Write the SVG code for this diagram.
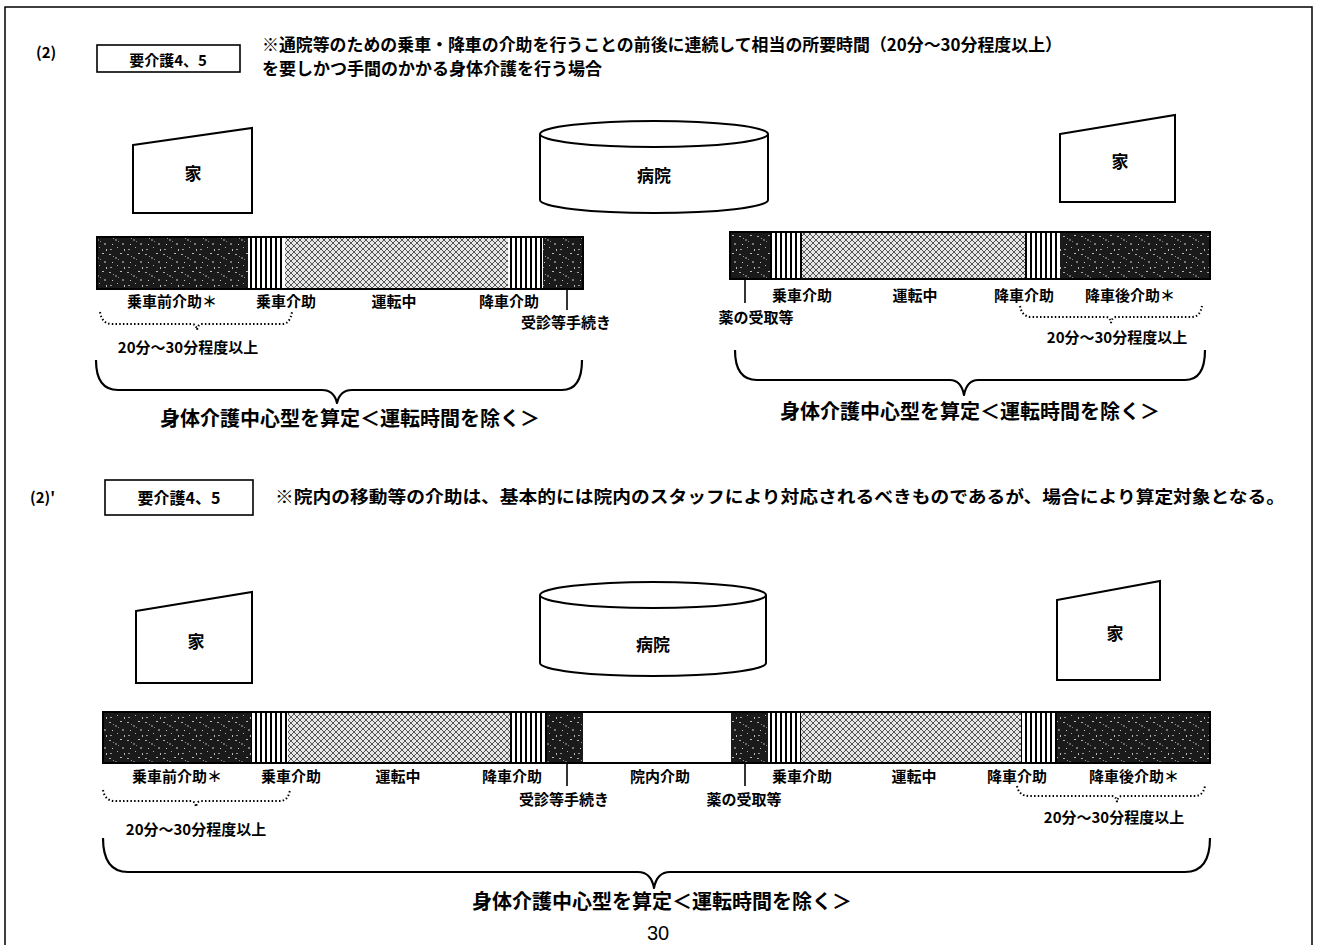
<svg xmlns="http://www.w3.org/2000/svg" width="1317" height="945" viewBox="0 0 1317 945">
<style>
.t{font-family:"Noto Sans CJK JP","Liberation Sans",sans-serif;font-weight:700;fill:#000}
.lb{font-size:15px;text-anchor:middle;dominant-baseline:central}
.hd{font-size:17px}
.big{font-size:20px;text-anchor:middle;dominant-baseline:central}
.shape{fill:#fff;stroke:#000;stroke-width:2}
.brace{fill:none;stroke:#000;stroke-width:2.2;stroke-linejoin:round}
.dbrace{fill:none;stroke:#000;stroke-width:2;stroke-dasharray:1.5 2.2}
.tick{stroke:#000;stroke-width:1.6}
.seg{stroke:none}
.bar{fill:none;stroke:#000;stroke-width:2}
</style>
<defs>
<pattern id="dark" width="18" height="18" patternUnits="userSpaceOnUse">
<rect width="18" height="18" fill="#1a1a1a"/>
<rect x="1" y="2" width="2" height="1" fill="#aaa"/>
<rect x="7" y="5" width="2" height="2" fill="#666"/>
<rect x="12" y="1" width="2" height="1" fill="#bbb"/>
<rect x="4" y="10" width="1" height="1" fill="#ccc"/>
<rect x="14" y="9" width="2" height="2" fill="#777"/>
<rect x="9" y="13" width="1" height="1" fill="#aaa"/>
<rect x="2" y="15" width="2" height="1" fill="#999"/>
<rect x="16" y="15" width="1" height="2" fill="#bbb"/>
<rect x="10" y="7" width="1" height="1" fill="#888"/>
<rect x="5" y="4" width="1" height="1" fill="#999"/>
</pattern>
<pattern id="stripe" width="5" height="10" patternUnits="userSpaceOnUse">
<rect width="5" height="10" fill="#fff"/>
<rect width="2" height="10" fill="#000"/>
</pattern>
<pattern id="hatch" width="6" height="6" patternUnits="userSpaceOnUse">
<rect width="6" height="6" fill="#e6e6e6"/>
<path d="M0 0L6 6M6 0L0 6" stroke="#555" stroke-width="1"/>
</pattern>
</defs>

<g id="frame">
<path d="M5 945V7H1312V945" fill="none" stroke="#000" stroke-width="1.5"/>
</g>

<g id="sec1-header">
<text class="t" x="36" y="58" font-size="15">(2)</text>
<rect x="97" y="45" width="143" height="27" fill="#fff" stroke="#000" stroke-width="1.6"/>
<text class="t" x="168" y="59" font-size="15" text-anchor="middle" dominant-baseline="central">要介護4、5</text>
<text class="t hd" x="262" y="51" textLength="800" lengthAdjust="spacingAndGlyphs">※通院等のための乗車・降車の介助を行うことの前後に連続して相当の所要時間（20分～30分程度以上）</text>
<text class="t hd" x="262" y="75">を要しかつ手間のかかる身体介護を行う場合</text>
</g>

<g id="sec1-home-left">
<polygon class="shape" points="133,145 252,128 252,213 133,213"/>
<text class="t" x="193" y="172" font-size="17" text-anchor="middle" dominant-baseline="central">家</text>
</g>
<g id="sec1-hospital">
<path class="shape" d="M540 134V200A114 13 0 0 0 768 200V134"/>
<ellipse class="shape" cx="654" cy="134" rx="114" ry="13"/>
<text class="t" x="654" y="174" font-size="17" text-anchor="middle" dominant-baseline="central">病院</text>
</g>
<g id="sec1-home-right">
<polygon class="shape" points="1060,134 1175,115 1175,202 1060,202"/>
<text class="t" x="1120" y="160" font-size="17" text-anchor="middle" dominant-baseline="central">家</text>
</g>

<g id="sec1-bar-left">
<rect class="seg" x="97" y="237" width="151" height="52" fill="url(#dark)"/>
<rect class="seg" x="248" y="237" width="37" height="52" fill="url(#stripe)"/>
<rect class="seg" x="285" y="237" width="223" height="52" fill="url(#hatch)"/>
<rect class="seg" x="508" y="237" width="35" height="52" fill="url(#stripe)"/>
<rect class="seg" x="543" y="237" width="40" height="52" fill="url(#dark)"/>
<rect class="bar" x="97" y="237" width="486" height="52"/>
<text class="t lb" x="172" y="300">乗車前介助＊</text>
<text class="t lb" x="286" y="300">乗車介助</text>
<text class="t lb" x="394" y="300">運転中</text>
<text class="t lb" x="509" y="300">降車介助</text>
<text class="t lb" x="566" y="321">受診等手続き</text>
<text class="t lb" x="188" y="346">20分～30分程度以上</text>
<text class="t big" x="350" y="417">身体介護中心型を算定＜運転時間を除く＞</text>
</g>

<g id="sec1-bar-right">
<rect class="seg" x="730" y="232" width="40" height="47" fill="url(#dark)"/>
<rect class="seg" x="770" y="232" width="32" height="47" fill="url(#stripe)"/>
<rect class="seg" x="802" y="232" width="223" height="47" fill="url(#hatch)"/>
<rect class="seg" x="1025" y="232" width="35" height="47" fill="url(#stripe)"/>
<rect class="seg" x="1060" y="232" width="150" height="47" fill="url(#dark)"/>
<rect class="bar" x="730" y="232" width="480" height="47"/>
<text class="t lb" x="802" y="294">乗車介助</text>
<text class="t lb" x="915" y="294">運転中</text>
<text class="t lb" x="1024" y="294">降車介助</text>
<text class="t lb" x="1130" y="294">降車後介助＊</text>
<text class="t lb" x="756" y="316">薬の受取等</text>
<text class="t lb" x="1117" y="336">20分～30分程度以上</text>
<text class="t big" x="970" y="410">身体介護中心型を算定＜運転時間を除く＞</text>
</g>

<g id="sec2-header">
<text class="t" x="30" y="503" font-size="15">(2)'</text>
<rect x="105" y="480" width="148" height="35" fill="#fff" stroke="#000" stroke-width="1.6"/>
<text class="t" x="179" y="497" font-size="16" text-anchor="middle" dominant-baseline="central">要介護4、5</text>
<text class="t hd" x="275" y="503" textLength="1010" lengthAdjust="spacingAndGlyphs">※院内の移動等の介助は、基本的には院内のスタッフにより対応されるべきものであるが、場合により算定対象となる。</text>
</g>

<g id="sec2-home-left">
<polygon class="shape" points="136,611 252,592 252,683 136,683"/>
<text class="t" x="196" y="640" font-size="17" text-anchor="middle" dominant-baseline="central">家</text>
</g>
<g id="sec2-hospital">
<path class="shape" d="M540 595V663A113 13 0 0 0 766 663V595"/>
<ellipse class="shape" cx="653" cy="595" rx="113" ry="13"/>
<text class="t" x="653" y="643" font-size="17" text-anchor="middle" dominant-baseline="central">病院</text>
</g>
<g id="sec2-home-right">
<polygon class="shape" points="1057,600 1160,581 1160,680 1057,680"/>
<text class="t" x="1115" y="632" font-size="17" text-anchor="middle" dominant-baseline="central">家</text>
</g>

<g id="sec2-bar">
<rect class="seg" x="103" y="712" width="148" height="51" fill="url(#dark)"/>
<rect class="seg" x="251" y="712" width="37" height="51" fill="url(#stripe)"/>
<rect class="seg" x="288" y="712" width="222" height="51" fill="url(#hatch)"/>
<rect class="seg" x="510" y="712" width="37" height="51" fill="url(#stripe)"/>
<rect class="seg" x="547" y="712" width="36" height="51" fill="url(#dark)"/>
<rect class="seg" x="583" y="712" width="148" height="51" fill="#fff"/>
<rect class="seg" x="731" y="712" width="37" height="51" fill="url(#dark)"/>
<rect class="seg" x="768" y="712" width="33" height="51" fill="url(#stripe)"/>
<rect class="seg" x="801" y="712" width="220" height="51" fill="url(#hatch)"/>
<rect class="seg" x="1021" y="712" width="36" height="51" fill="url(#stripe)"/>
<rect class="seg" x="1057" y="712" width="153" height="51" fill="url(#dark)"/>
<rect class="bar" x="103" y="712" width="1107" height="51"/>
<text class="t lb" x="177" y="775">乗車前介助＊</text>
<text class="t lb" x="291" y="775">乗車介助</text>
<text class="t lb" x="398" y="775">運転中</text>
<text class="t lb" x="512" y="775">降車介助</text>
<text class="t lb" x="660" y="775">院内介助</text>
<text class="t lb" x="802" y="775">乗車介助</text>
<text class="t lb" x="914" y="775">運転中</text>
<text class="t lb" x="1017" y="775">降車介助</text>
<text class="t lb" x="1134" y="775">降車後介助＊</text>
<text class="t lb" x="564" y="798">受診等手続き</text>
<text class="t lb" x="744" y="798">薬の受取等</text>
<text class="t lb" x="196" y="828">20分～30分程度以上</text>
<text class="t lb" x="1114" y="816">20分～30分程度以上</text>
<text class="t big" x="662" y="900">身体介護中心型を算定＜運転時間を除く＞</text>
</g>

<g id="connectors">
<line class="tick" x1="567" y1="289" x2="567" y2="310"/>
<line class="tick" x1="745" y1="279" x2="745" y2="303"/>
<path class="dbrace" d="M100 312Q102 324 112 324H192Q196 324 197 330Q198 324 202 324H282Q290 324 292 312"/>
<path class="dbrace" d="M1020 306Q1022 317 1032 317H1106Q1110 317 1111 323Q1112 317 1116 317H1192Q1200 317 1202 306"/>
<path class="brace" d="M96 360Q96 390 118 390H322Q334 390 337 403Q340 390 352 390H562Q582 390 582 360"/>
<path class="brace" d="M735 350Q735 380 757 380H950Q961 380 964 395Q967 380 978 380H1185Q1205 380 1205 350"/>
<line class="tick" x1="567" y1="763" x2="567" y2="786"/>
<line class="tick" x1="745" y1="763" x2="745" y2="786"/>
<path class="dbrace" d="M103 790Q105 801 115 801H191Q195 801 196 807Q197 801 201 801H280Q288 801 290 790"/>
<path class="dbrace" d="M1017 786Q1019 796 1029 796H1112Q1116 796 1117 802Q1118 796 1122 796H1195Q1203 796 1205 786"/>
<path class="brace" d="M103 838Q103 872 128 872H638Q651 872 654 888Q657 872 670 872H1185Q1210 872 1210 838"/>
</g>

<text x="658" y="940" font-family="Liberation Sans, sans-serif" font-size="20" text-anchor="middle" fill="#000">30</text>
</svg>
